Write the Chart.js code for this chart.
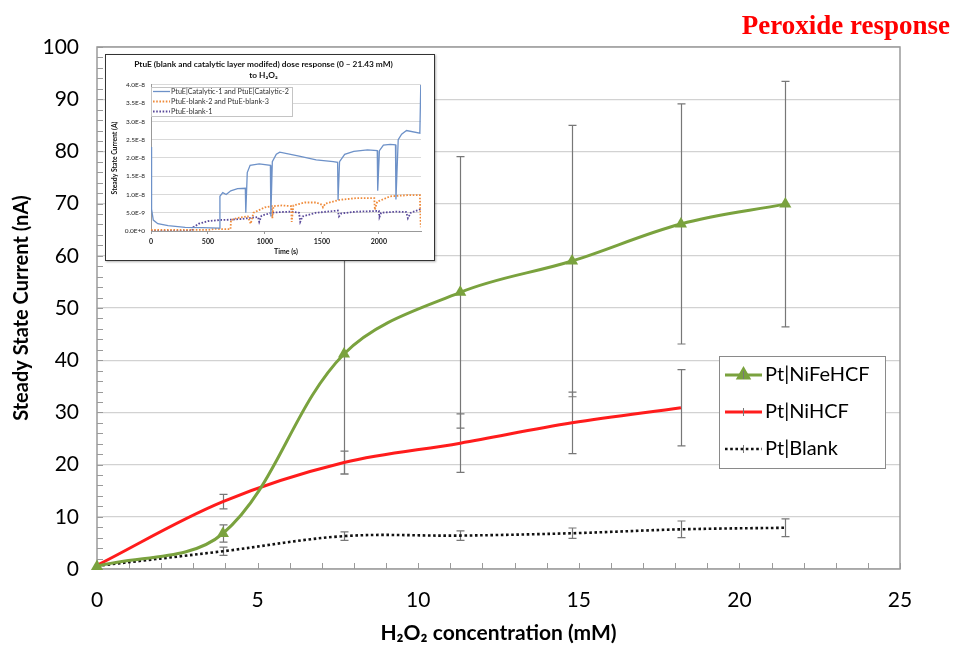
<!DOCTYPE html>
<html>
<head>
<meta charset="utf-8">
<script src="https://cdn.jsdelivr.net/npm/chart.js@4.4.0/dist/chart.umd.min.js"></script>
<style>
  html, body { margin: 0; padding: 0; background: #fff; }
  #wrap { position: relative; width: 954px; height: 648px; }
  canvas { display: block; }
  #heading { position: absolute; right: 4px; top: 10px; font: bold 27px 'Liberation Serif', serif; color: #ff0000; }
  #insetBox { position: absolute; left: 105px; top: 54px; width: 328px; height: 205px; border: 1.5px solid #333; background: #fff; box-shadow: 1px 1px 2px rgba(0,0,0,0.3); }
</style>
</head>
<body>
<div id="wrap">
  <canvas id="mainChart" width="954" height="648"></canvas>
  <div id="heading">Peroxide response</div>
  <div id="insetBox"><canvas id="insetChart" width="328" height="205"></canvas></div>
</div>
<script>
// dose response: steady state current vs H2O2 concentration
const concentration = [0, 3.92, 7.69, 11.31, 14.79, 18.18, 21.43];
const niFeHcf = [0.5, 6.8, 41.2, 53.0, 59.0, 66.1, 69.9];
const niFeHcfErr = [0, 1.65, 23, 26, 26, 23, 23.5];
const niHcf = [0.7, 12.9, 20.4, 24.1, 28.0, 30.9];
const niHcfErr = [0, 1.4, 2.2, 5.6, 5.9, 7.3];
const blank = [0.6, 3.4, 6.3, 6.4, 6.85, 7.6, 7.9];
const blankErr = [0, 0.8, 0.8, 0.9, 1.0, 1.6, 1.7];

// inset: current transients (time in s, current in A)
const timeCat = [0, 5, 20, 60, 150, 300, 450, 600, 605, 630, 660, 700, 760, 828, 832, 845, 870, 950, 1048, 1052, 1065, 1100, 1130, 1300, 1450, 1600, 1638, 1642, 1655, 1700, 1780, 1900, 1986, 1990, 2005, 2040, 2100, 2146, 2150, 2170, 2200, 2243, 2360, 2368];
const currentCat = [2.3e-8, 0.6e-8, 0.3e-8, 0.2e-8, 0.15e-8, 0.1e-8, 0.09e-8, 0.08e-8, 0.95e-8, 1.05e-8, 1.0e-8, 1.1e-8, 1.16e-8, 1.17e-8, 0.5e-8, 1.6e-8, 1.8e-8, 1.84e-8, 1.8e-8, 0.4e-8, 1.9e-8, 2.1e-8, 2.16e-8, 2.05e-8, 1.95e-8, 1.9e-8, 1.88e-8, 0.85e-8, 1.9e-8, 2.1e-8, 2.18e-8, 2.22e-8, 2.2e-8, 1.1e-8, 2.2e-8, 2.35e-8, 2.37e-8, 2.36e-8, 0.86e-8, 2.5e-8, 2.65e-8, 2.75e-8, 2.68e-8, 4.0e-8];
const timeBlank23 = [0, 500, 560, 650, 698, 702, 750, 850, 875, 900, 1000, 1060, 1065, 1075, 1150, 1230, 1235, 1250, 1350, 1450, 1500, 1510, 1530, 1650, 1800, 1960, 1965, 1985, 2100, 2250, 2360, 2368];
const currentBlank23 = [0.03e-8, 0.03e-8, 0.06e-8, 0.05e-8, 0.05e-8, 0.3e-8, 0.35e-8, 0.4e-8, 0.2e-8, 0.5e-8, 0.65e-8, 0.68e-8, 0.35e-8, 0.68e-8, 0.7e-8, 0.68e-8, 0.25e-8, 0.7e-8, 0.78e-8, 0.78e-8, 0.72e-8, 0.65e-8, 0.75e-8, 0.85e-8, 0.9e-8, 0.9e-8, 0.58e-8, 0.8e-8, 0.95e-8, 0.98e-8, 0.98e-8, 0.1e-8];
const timeBlank1 = [0, 360, 370, 420, 500, 600, 700, 800, 900, 940, 950, 970, 1060, 1150, 1230, 1300, 1310, 1330, 1450, 1640, 1650, 1670, 1800, 2000, 2005, 2020, 2150, 2240, 2255, 2280, 2368];
const currentBlank1 = [0, 0, 0.1e-8, 0.2e-8, 0.27e-8, 0.3e-8, 0.31e-8, 0.33e-8, 0.37e-8, 0.38e-8, 0.25e-8, 0.42e-8, 0.5e-8, 0.52e-8, 0.53e-8, 0.5e-8, 0.25e-8, 0.4e-8, 0.5e-8, 0.56e-8, 0.4e-8, 0.48e-8, 0.53e-8, 0.55e-8, 0.38e-8, 0.5e-8, 0.53e-8, 0.52e-8, 0.35e-8, 0.5e-8, 0.6e-8];

const insetTitle = ['PtuE (blank and catalytic layer modifed) dose response (0 \u2013 21.43 mM)', 'to H\u2082O\u2082'];
const insetTimeTicks = [0, 500, 1000, 1500, 2000];

const green = '#7aa23e';
const red = '#ff1c1c';

const toPoints = (xs, ys) => ys.map((y, i) => ({ x: xs[i], y }));

// plot frame plus short inward ticks on both axes
const framePlugin = {
    id: 'frame',
    beforeDatasetsDraw(chart, args, o) {
        const { ctx, chartArea: a, scales: { x, y } } = chart;
        ctx.save();
        ctx.strokeStyle = o.color;
        ctx.lineWidth = o.width;
        ctx.strokeRect(a.left, a.top, a.right - a.left, a.bottom - a.top);
        ctx.beginPath();
        for (let i = 0; i <= (y.max - y.min) / o.yStep; i++) {
            const py = Math.round(y.getPixelForValue(y.min + i * o.yStep)) + 0.5;
            ctx.moveTo(a.left, py);
            ctx.lineTo(a.left + o.tick, py);
        }
        for (let i = 0; i <= (x.max - x.min) / o.xStep; i++) {
            const px = Math.round(x.getPixelForValue(x.min + i * o.xStep)) + 0.5;
            ctx.moveTo(px, a.bottom);
            ctx.lineTo(px, a.bottom - o.tick);
        }
        ctx.lineWidth = 1;
        ctx.stroke();
        ctx.restore();
    }
};

// vertical error bars with caps, read from dataset.errors
const errorBarPlugin = {
    id: 'errorBars',
    beforeDatasetsDraw(chart, args, o) {
        const { ctx, scales: { x, y } } = chart;
        ctx.save();
        ctx.strokeStyle = o.color;
        ctx.lineWidth = o.width;
        chart.data.datasets.forEach(ds => {
            if (!ds.errors) return;
            ds.data.forEach((p, i) => {
                const e = ds.errors[i];
                if (!e) return;
                const px = Math.round(x.getPixelForValue(p.x)) + 0.5;
                const top = y.getPixelForValue(p.y + e);
                const bot = y.getPixelForValue(p.y - e);
                ctx.beginPath();
                ctx.moveTo(px, top); ctx.lineTo(px, bot);
                ctx.moveTo(px - o.cap, top); ctx.lineTo(px + o.cap, top);
                ctx.moveTo(px - o.cap, bot); ctx.lineTo(px + o.cap, bot);
                ctx.stroke();
            });
        });
        ctx.restore();
    }
};

// boxed legend placed inside the plot
const boxLegendPlugin = {
    id: 'boxLegend',
    afterDraw(chart, args, o) {
        const ctx = chart.ctx;
        ctx.save();
        ctx.fillStyle = '#fff';
        ctx.fillRect(o.left, o.top, o.width, o.height);
        ctx.strokeStyle = o.borderColor;
        ctx.lineWidth = 1;
        ctx.strokeRect(o.left + 0.5, o.top + 0.5, o.width, o.height);
        ctx.font = o.font;
        ctx.textBaseline = 'middle';
        chart.data.datasets.forEach((ds, i) => {
            const yy = o.top + o.firstRow + i * o.rowGap;
            const x0 = o.left + o.sampleStart;
            ctx.strokeStyle = ds.borderColor;
            ctx.lineWidth = ds.borderWidth;
            ctx.setLineDash(ds.borderDash || []);
            ctx.beginPath();
            ctx.moveTo(x0, yy);
            ctx.lineTo(x0 + o.sampleLen, yy);
            ctx.stroke();
            ctx.setLineDash([]);
            if (ds.pointRadius) {
                Chart.helpers.drawPoint(ctx, {
                    pointStyle: ds.pointStyle, radius: ds.pointRadius * 0.85, rotation: 0, borderWidth: 1
                }, x0 + o.sampleLen / 2, yy);
                ctx.fillStyle = ds.backgroundColor;
                ctx.fill();
            }
            if (o.errorTick && ds.errors) {
                ctx.strokeStyle = o.errorColor;
                ctx.lineWidth = 1;
                ctx.beginPath();
                ctx.moveTo(x0 + o.sampleLen / 2, yy - o.errorTick);
                ctx.lineTo(x0 + o.sampleLen / 2, yy + o.errorTick);
                ctx.stroke();
            }
            ctx.fillStyle = o.color;
            ctx.fillText(ds.label, o.left + o.textStart, yy);
        });
        ctx.restore();
    }
};

new Chart(document.getElementById('mainChart'), {
    type: 'line',
    data: {
        datasets: [
            {
                label: 'Pt|NiFeHCF', data: toPoints(concentration, niFeHcf), errors: niFeHcfErr,
                borderColor: green, backgroundColor: green, borderWidth: 3,
                pointStyle: 'triangle', pointRadius: 7, pointBorderWidth: 0, tension: 0.35, clip: false
            },
            {
                label: 'Pt|NiHCF', data: toPoints(concentration, niHcf), errors: niHcfErr,
                borderColor: red, backgroundColor: red, borderWidth: 3, pointRadius: 0, tension: 0.35, clip: false
            },
            {
                label: 'Pt|Blank', data: toPoints(concentration, blank), errors: blankErr,
                borderColor: '#111', backgroundColor: '#111', borderWidth: 2.6, borderDash: [2.6, 2.6],
                pointRadius: 0, tension: 0.35, clip: false
            }
        ]
    },
    options: {
        responsive: false,
        animation: false,
        layout: { padding: { top: 47, right: 54, left: 0, bottom: 0 } },
        plugins: {
            legend: { display: false },
            tooltip: { enabled: false },
            frame: { color: '#9a9a9a', width: 1.5, tick: 6, xStep: 1, yStep: 2 },
            errorBars: { color: '#777', width: 1.2, cap: 4 },
            boxLegend: {
                left: 719, top: 356, width: 166, height: 112, firstRow: 19, rowGap: 37,
                sampleStart: 6, sampleLen: 37, textStart: 46, font: '20px Lato', color: '#000',
                borderColor: '#8a8a8a', errorTick: 4, errorColor: '#777'
            }
        },
        scales: {
            x: {
                type: 'linear', min: 0, max: 25,
                ticks: { stepSize: 5, color: '#000', font: { family: 'Lato', size: 21 }, padding: 19 },
                grid: { display: false, drawTicks: false },
                border: { display: false },
                title: {
                    display: true, text: 'H\u2082O\u2082 concentration (mM)', color: '#000',
                    font: { family: 'Lato', size: 21, weight: 'bold' }, padding: { top: 0, bottom: 2 }
                },
                afterFit: s => { s.height = 79; }
            },
            y: {
                min: 0, max: 100,
                ticks: { stepSize: 10, color: '#000', font: { family: 'Lato', size: 21 }, padding: 18 },
                grid: { color: '#d2d2d2', lineWidth: 1.3, drawTicks: false },
                border: { display: false },
                title: {
                    display: true, text: 'Steady State Current (nA)', color: '#000',
                    font: { family: 'Lato', size: 20, weight: 'bold' }, padding: { top: 10, bottom: 0 }
                },
                afterFit: s => { s.width = 97; }
            }
        }
    },
    plugins: [framePlugin, errorBarPlugin, boxLegendPlugin]
});

new Chart(document.getElementById('insetChart'), {
    type: 'line',
    data: {
        datasets: [
            {
                label: 'PtuE|Catalytic-1 and PtuE|Catalytic-2', data: toPoints(timeCat, currentCat),
                borderColor: '#6d91c8', borderWidth: 1.3, pointRadius: 0, tension: 0
            },
            {
                label: 'PtuE-blank-2 and PtuE-blank-3', data: toPoints(timeBlank23, currentBlank23),
                borderColor: '#ef8b3b', borderWidth: 1.8, borderDash: [1.6, 1.6], pointRadius: 0, tension: 0
            },
            {
                label: 'PtuE-blank-1', data: toPoints(timeBlank1, currentBlank1),
                borderColor: '#5b4b9b', borderWidth: 1.8, borderDash: [1.6, 1.6], pointRadius: 0, tension: 0
            }
        ]
    },
    options: {
        responsive: false,
        animation: false,
        layout: { padding: { right: 13 } },
        plugins: {
            legend: { display: false },
            tooltip: { enabled: false },
            title: {
                display: true, text: insetTitle, color: '#111',
                font: { family: 'Lato', size: 8.3, weight: 'bold', lineHeight: 1.35 },
                padding: { top: 4, bottom: 3.5 }
            },
            boxLegend: {
                left: 45, top: 32, width: 141, height: 29, firstRow: 4.5, rowGap: 10,
                sampleStart: 2, sampleLen: 17, textStart: 20, font: '7.2px Lato', color: '#333',
                borderColor: '#c4c4c4'
            }
        },
        scales: {
            x: {
                type: 'linear', min: 0, max: 2370,
                afterBuildTicks: s => { s.ticks = insetTimeTicks.map(v => ({ value: v })); },
                ticks: {
                    color: '#222', font: { family: 'Lato', size: 7, weight: 'bold' }, padding: 4,
                    autoSkip: false, maxRotation: 0, callback: v => String(v)
                },
                grid: { drawOnChartArea: false, tickLength: 3, color: '#999' },
                border: { color: '#999' },
                title: {
                    display: true, text: 'Time (s)', color: '#111',
                    font: { family: 'Lato', size: 7, weight: 'bold' }, padding: { top: 0, bottom: 4 }
                },
                afterFit: s => { s.height = 29; }
            },
            y: {
                min: 0, max: 4e-8,
                ticks: {
                    stepSize: 5e-9, color: '#222', font: { family: 'Lato', size: 6.5 }, padding: 6,
                    callback: v => v.toExponential(1).toUpperCase()
                },
                grid: { color: '#d9d9d9', drawTicks: false },
                border: { color: '#999' },
                title: {
                    display: true, text: 'Steady State Current (A)', color: '#111',
                    font: { family: 'Lato', size: 6.8, weight: 'bold' }, padding: { top: 5, bottom: 0 }
                },
                afterFit: s => { s.width = 45; }
            }
        }
    },
    plugins: [boxLegendPlugin]
});
</script>
</body>
</html>
